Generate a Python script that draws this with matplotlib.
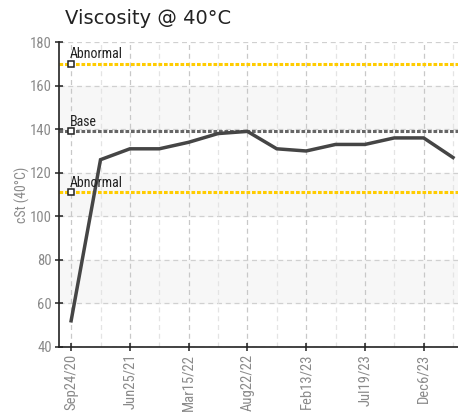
import numpy as np
import matplotlib
matplotlib.use("Agg")
import matplotlib.pyplot as plt
from matplotlib import font_manager

# =========================
# DATOS
# =========================
fechas = ["Sep24/20", "", "Jun25/21", "", "Mar15/22", "", "Aug22/22", "",
          "Feb13/23", "", "Jul19/23", "", "Dec6/23", ""]
viscosidad = [52, 126, 131, 131, 134, 138, 139, 131, 130, 133, 133, 136, 136, 127]

limite_alto = 170
base = 139
limite_bajo = 111

yticks = [40, 60, 80, 100, 120, 140, 160, 180]
bandas = [(60, 80), (100, 120), (140, 160)]

# fuente angosta para los ejes si existe
nombres = {f.name for f in font_manager.fontManager.ttflist}
angosta = "DejaVu Sans"
for cand in ["Roboto Condensed", "Liberation Sans Narrow", "Roboto"]:
    if cand in nombres:
        angosta = cand
        break

fig = plt.figure(figsize=(4.58, 4.13), dpi=100)
ax = fig.add_axes([0.129, 0.160, 0.871, 0.738])

x = np.arange(len(viscosidad))

# bandas grises alternadas
for y0, y1 in bandas:
    ax.axhspan(y0, y1, color="#f7f7f7", zorder=0)

# grid
for yv in yticks:
    ax.axhline(yv, color="#d0d0d0", lw=0.9, ls=(0, (4, 3)), zorder=1)
for i in x:
    col = "#c8c8c8" if i % 2 == 0 else "#e4e4e4"
    ax.axvline(i, color=col, lw=0.9, ls=(0, (4, 3)), zorder=1)

# lineas de referencia
ax.axhline(limite_alto, color="#ffcc00", lw=2.2, ls=(0, (1.2, 0.6)), zorder=2)
ax.axhline(limite_bajo, color="#ffcc00", lw=2.2, ls=(0, (1.2, 0.6)), zorder=2)
ax.axhline(base, color="#666666", lw=2.2, ls=(0, (1.2, 0.6)), zorder=2)

for yv, txt in [(limite_alto, "Abnormal"), (base, "Base"), (limite_bajo, "Abnormal")]:
    ax.plot(0, yv, marker="s", ms=4.5, mfc="white", mec="#222222", mew=1.1,
            zorder=5, clip_on=False)
    ax.text(-0.03, yv + 1.3, txt, fontsize=10, family=angosta,
            color="#222222", ha="left", va="bottom", zorder=6)

# serie
ax.plot(x, viscosidad, color="#454545", lw=2.5, zorder=4, solid_joinstyle="miter")

ax.set_xlim(-0.41, 13.17)
ax.set_ylim(40, 180)
ax.set_yticks(yticks)
ax.set_xticks(x[::2])
ax.set_xticklabels([f for f in fechas if f], rotation=90)

for s in ["top", "right"]:
    ax.spines[s].set_visible(False)
for s in ["left", "bottom"]:
    ax.spines[s].set_color("#222222")
    ax.spines[s].set_linewidth(1.2)

ax.tick_params(direction="inout", length=6, width=1.1, color="#222222",
               labelcolor="#8a8a8a", labelsize=10.5, pad=2)
for lbl in ax.get_xticklabels() + ax.get_yticklabels():
    lbl.set_family(angosta)

ax.set_ylabel("cSt (40\u00b0C)", color="#8a8a8a", fontsize=10, family=angosta)
ax.yaxis.set_label_coords(-0.072, 0.5)

fig.text(0.142, 0.955, "Viscosity @ 40\u00b0C", fontsize=14, color="#222222",
         ha="left", va="center")

fig.savefig("out.png", dpi=100)
